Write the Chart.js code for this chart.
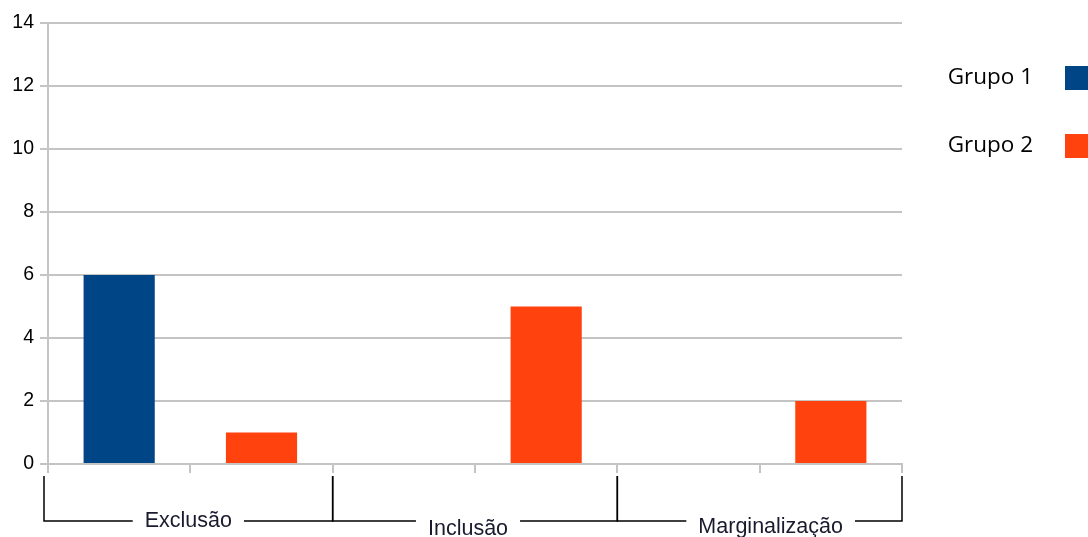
<!DOCTYPE html>
<html>
<head>
<meta charset="utf-8">
<script src="https://cdn.jsdelivr.net/npm/chart.js@4"></script>
<style>
html,body{margin:0;padding:0;background:#fff;}
#wrap{width:1088px;height:537px;position:relative;}
</style>
</head>
<body>
<div id="wrap"><canvas id="c" width="1088" height="537"></canvas></div>
<script>
// ---- data ----
const groups = ['Exclusão', 'Inclusão', 'Marginalização'];
const seriesNames = ['Grupo 1', 'Grupo 2'];
// slots: each group has one slot per series (Grupo 1, Grupo 2)
const grupo1 = [6, null, null];   // per group
const grupo2 = [1, 5, 2];         // per group
const yTicks = [0, 2, 4, 6, 8, 10, 12, 14];

const colors = ['#004586', '#ff420e'];

// build slot labels & dataset arrays (6 slots)
const slotLabels = [];
const g1Slots = [], g2Slots = [];
groups.forEach((g, i) => {
  slotLabels.push(g + ' / ' + seriesNames[0]);
  slotLabels.push(g + ' / ' + seriesNames[1]);
  g1Slots.push(grupo1[i], null);
  g2Slots.push(null, grupo2[i]);
});

const gridGray = '#c4c4c4';

const bracketPlugin = {
  id: 'brackets',
  afterDraw(chart) {
    const ctx = chart.ctx;
    const x = chart.scales.x;
    const area = chart.chartArea;
    const half = (x.getPixelForValue(1) - x.getPixelForValue(0)) / 2;
    const lineY = area.bottom + 57;
    const topY = area.bottom + 12;
    ctx.save();
    ctx.strokeStyle = '#000';
    ctx.lineWidth = 1.5;
    ctx.font = '21.5px "Liberation Sans", Arial, sans-serif';
    ctx.fillStyle = '#1a1a2e';
    ctx.textAlign = 'center';
    ctx.textBaseline = 'middle';
    const labelDy = [0, 8, 6];
    const labelDx = [0, -7, 11];
    groups.forEach((g, i) => {
      const x0 = x.getPixelForValue(i * 2) - half - (i === 0 ? 4 : 0);
      const x1 = x.getPixelForValue(i * 2 + 1) + half;
      const cx = (x0 + x1) / 2 + labelDx[i];
      const tw = ctx.measureText(g).width;
      ctx.beginPath();
      ctx.moveTo(x0, topY); ctx.lineTo(x0, lineY);
      ctx.lineTo(cx - tw / 2 - 12, lineY);
      ctx.moveTo(cx + tw / 2 + 12, lineY);
      ctx.lineTo(x1, lineY); ctx.lineTo(x1, topY);
      ctx.stroke();
      ctx.fillText(g, cx, lineY + labelDy[i]);
    });
    ctx.restore();
  }
};

const legendPlugin = {
  id: 'sideLegend',
  afterDraw(chart) {
    const ctx = chart.ctx;
    ctx.save();
    ctx.font = '22.5px "Open Sans", sans-serif';
    ctx.fillStyle = '#000';
    ctx.textAlign = 'right';
    ctx.textBaseline = 'middle';
    chart.data.datasets.forEach((ds, i) => {
      const cy = 78 + i * 68;
      ctx.fillText(ds.label, 1033, cy);
      ctx.fillStyle = ds.backgroundColor;
      ctx.fillRect(1065, cy - 12, 25, 24);
      ctx.fillStyle = '#000';
    });
    ctx.restore();
  }
};

new Chart(document.getElementById('c'), {
  type: 'bar',
  data: {
    labels: slotLabels,
    datasets: [
      { label: seriesNames[0], data: g1Slots, backgroundColor: colors[0], grouped: false },
      { label: seriesNames[1], data: g2Slots, backgroundColor: colors[1], grouped: false }
    ]
  },
  options: {
    responsive: false,
    animation: false,
    devicePixelRatio: 1,
    layout: { padding: { top: 23, right: 186, left: 0, bottom: 0 } },
    datasets: { bar: { barPercentage: 0.5, categoryPercentage: 1 } },
    plugins: { legend: { display: false }, tooltip: { enabled: false } },
    scales: {
      x: {
        offset: true,
        ticks: { display: false },
        border: { display: true, color: gridGray, width: 2 },
        grid: {
          offset: true,
          lineWidth: 2,
          color: (c) => (c.index === 0 || c.index === slotLabels.length) ? gridGray : 'transparent',
          tickColor: gridGray,
          tickLength: 9,
          tickWidth: 2,
          drawTicks: true
        },
        afterFit(s) { s.height = 73; }
      },
      y: {
        min: 0, max: 14,
        afterBuildTicks(s) { s.ticks = yTicks.map(v => ({ value: v })); },
        ticks: {
          color: '#000',
          font: { family: '"Liberation Sans", Arial, sans-serif', size: 19.5 },
          padding: 6
        },
        border: { display: true, color: gridGray, width: 2 },
        grid: { color: gridGray, lineWidth: 2, tickLength: 8, tickColor: gridGray },
        afterFit(s) { s.width = 48; }
      }
    }
  },
  plugins: [bracketPlugin, legendPlugin]
});
</script>
</body>
</html>
